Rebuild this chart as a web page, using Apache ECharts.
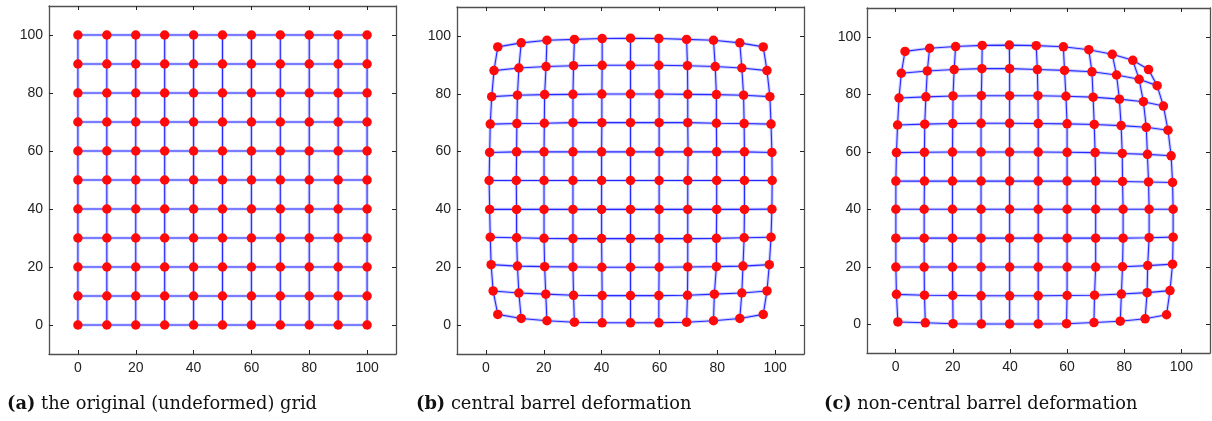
<!DOCTYPE html>
<html><head><meta charset="utf-8">
<script src="https://cdn.jsdelivr.net/npm/echarts@6/dist/echarts.min.js"></script>
<style>html,body{margin:0;padding:0;background:#fff}#c{width:1212px;height:421px}</style>
</head><body><div id="c"></div>
<script>
// tick labels shown on every axis
const tickValues = [0, 20, 40, 60, 80, 100];
// panel (a): original grid node coordinates
const gridValues = [0, 10, 20, 30, 40, 50, 60, 70, 80, 90, 100];

// panel (b): central barrel deformation, rows listed from top (nominal y=100) to bottom (y=0)
const bX = [
  [4.1,12.2,21.1,30.6,40.2,50,59.8,69.4,78.7,87.8,95.9],
  [2.8,11.4,20.8,30.3,40.2,50,59.8,69.7,79.3,88.5,97.2],
  [2.0,10.9,20.3,30.1,40.1,50,59.9,69.8,79.7,89.1,98.2],
  [1.5,10.7,20.2,30.1,40.1,50,59.9,69.8,79.7,89.3,98.6],
  [1.3,10.6,20.1,30.1,40.0,50,59.9,69.9,79.8,89.4,98.9],
  [1.1,10.5,20.1,30.1,40.0,50,59.9,69.8,79.8,89.4,99.0],
  [1.3,10.6,20.1,30.1,40.0,50,59.9,69.8,79.8,89.4,98.9],
  [1.5,10.6,20.1,30.1,40.0,50,59.9,69.8,79.7,89.3,98.6],
  [1.8,10.9,20.3,30.1,40.1,50,59.9,69.8,79.7,88.9,98.0],
  [2.5,11.4,20.7,30.3,40.2,50,59.8,69.7,79.0,88.5,97.2],
  [4.1,12.2,21.1,30.6,40.2,50,59.8,69.4,78.7,87.8,95.9]
];
const bY = [
  [96.2,97.6,98.5,98.8,99.1,99.2,99.1,98.8,98.5,97.6,96.2],
  [88.0,88.9,89.4,89.7,89.85,89.85,89.85,89.7,89.4,88.9,88.0],
  [79.0,79.5,79.7,79.8,79.9,79.9,79.9,79.8,79.7,79.5,79.0],
  [69.5,69.7,69.8,70.0,70.0,70.0,70.0,70.0,69.8,69.7,69.5],
  [59.7,59.9,59.9,59.9,59.9,59.9,59.9,59.9,59.9,59.9,59.7],
  [50,50,50,50,50,50,50,50,50,50,50],
  [40,40,40,40,40,40,40,40,40,40,40.1],
  [30.4,30.2,30.0,29.9,29.9,29.9,29.9,29.9,30.0,30.2,30.4],
  [20.9,20.4,20.2,20.1,20.0,20.0,20.0,20.1,20.2,20.4,20.9],
  [11.8,11.1,10.7,10.3,10.2,10.2,10.2,10.3,10.7,11.1,11.8],
  [3.7,2.3,1.5,1.0,0.8,0.8,0.8,1.0,1.5,2.3,3.7]
];

// panel (c): non-central barrel deformation, rows from top to bottom
const cX = [
  [3.3,11.9,21.0,30.3,39.8,49.2,58.7,67.6,75.8,83.0,88.5],
  [2.0,11.1,20.5,30.2,39.9,49.6,59.1,68.7,77.3,85.2,91.5],
  [1.2,10.6,20.1,30.0,39.9,49.8,59.6,69.1,78.3,86.7,93.7],
  [0.7,10.2,20.0,29.9,39.9,49.9,60.0,69.5,78.9,87.7,95.3],
  [0.3,10.1,19.9,29.9,39.9,49.9,60.0,69.8,79.3,88.1,96.4],
  [0.1,10.1,19.9,29.9,39.9,49.9,60.0,70.0,79.4,88.5,96.9],
  [0.1,10.0,19.9,29.9,39.9,49.9,60.0,70.0,79.6,88.7,97.1],
  [0.1,10.0,19.9,29.9,39.9,49.9,60.0,70.0,79.6,88.7,97.1],
  [0.1,10.0,19.9,29.9,39.9,49.9,60.0,70.0,79.4,88.2,96.9],
  [0.3,10.1,20.0,29.9,39.9,49.9,60.0,69.6,79.0,88.0,96.0],
  [0.8,10.4,20.1,30.0,39.9,49.9,59.8,69.4,78.6,87.3,94.8]
];
const cY = [
  [94.9,96.0,96.6,97.0,97.1,96.9,96.5,95.5,93.9,91.8,88.6],
  [87.3,88.1,88.6,88.9,88.9,88.6,88.3,87.8,86.7,85.2,83.0],
  [78.7,79.1,79.4,79.5,79.5,79.5,79.3,79.0,78.3,77.4,75.9],
  [69.3,69.6,69.8,69.9,69.9,69.8,69.7,69.5,69.1,68.5,67.5],
  [59.7,59.8,59.9,59.9,59.9,59.9,59.8,59.7,59.4,59.1,58.6],
  [49.8,49.8,49.8,49.8,49.8,49.8,49.8,49.8,49.65,49.5,49.3],
  [40,40,40,40,40,40,40,40,40,40,40],
  [29.95,29.95,29.95,29.95,29.95,29.95,29.95,29.95,29.95,30.1,30.3],
  [19.9,19.9,19.9,19.9,19.9,19.9,19.9,19.9,20.0,20.4,20.9],
  [10.4,10.1,10.0,9.9,9.9,9.9,10.0,10.1,10.5,11.0,11.7],
  [0.8,0.5,0.2,0.1,0.1,0.1,0.2,0.6,1.05,1.9,3.3]
];

const captions = [
  ['(a)', ' the original (undeformed) grid'],
  ['(b)', ' central barrel deformation'],
  ['(c)', ' non-central barrel deformation']
];

// build panel (a) matrices from the nominal grid values (top row first)
const aX = gridValues.slice().reverse().map(() => gridValues.slice());
const aY = gridValues.slice().reverse().map(v => gridValues.map(() => v));

const panels = [[aX, aY], [bX, bY], [cX, cY]];
const grids = [
  {left: 49, top: 6, width: 347, height: 348},
  {left: 457, top: 7, width: 347, height: 347},
  {left: 867, top: 8, width: 343, height: 345}
];

const axisColor = '#505050';
const labelStyle = {fontFamily: 'Liberation Sans, Arial, sans-serif', fontSize: 14, color: '#222'};
const xAxes = [], yAxes = [], series = [], titles = [];

grids.forEach((g, i) => {
  const common = {type: 'value', min: -10, max: 110, gridIndex: i, splitLine: {show: false},
    axisLine: {show: true, onZero: false, lineStyle: {color: axisColor, width: 1.3}},
    axisTick: {show: true, inside: true, length: 4, customValues: tickValues, lineStyle: {color: '#222', width: 1}}};
  xAxes.push(Object.assign({}, common, {position: 'bottom',
    axisLabel: Object.assign({show: true, margin: 7, customValues: tickValues}, labelStyle)}));
  xAxes.push(Object.assign({}, common, {position: 'top', axisLabel: {show: false}}));
  yAxes.push(Object.assign({}, common, {position: 'left',
    axisLabel: Object.assign({show: true, margin: 6, customValues: tickValues}, labelStyle)}));
  yAxes.push(Object.assign({}, common, {position: 'right', axisLabel: {show: false}}));

  const [X, Y] = panels[i];
  const n = X.length, m = X[0].length;
  const addLine = (pts) => {
    series.push({type: 'line', xAxisIndex: 2 * i, yAxisIndex: 2 * i, data: pts, showSymbol: false,
      silent: true, z: 2, lineStyle: {color: 'rgba(110,120,255,0.35)', width: 3.2}, animation: false});
    series.push({type: 'line', xAxisIndex: 2 * i, yAxisIndex: 2 * i, data: pts, showSymbol: false,
      silent: true, z: 3, lineStyle: {color: 'rgba(0,0,255,0.8)', width: 1.1}, animation: false});
  };
  for (let r = 0; r < n; r++) addLine(X[r].map((x, c) => [x, Y[r][c]]));
  for (let c = 0; c < m; c++) addLine(X.map((row, r) => [row[c], Y[r][c]]));
  const pts = [];
  for (let r = 0; r < n; r++) for (let c = 0; c < m; c++) pts.push([X[r][c], Y[r][c]]);
  series.push({type: 'scatter', xAxisIndex: 2 * i, yAxisIndex: 2 * i, data: pts, symbolSize: 9.5, z: 4,
    itemStyle: {color: '#ff0a0a', opacity: 1}, animation: false, silent: true});

  titles.push({left: [7, 416, 824][i], top: 395.5, padding: 0,
    text: '{b|' + captions[i][0] + '}{n|' + captions[i][1] + '}',
    textStyle: {rich: {
      b: {fontFamily: 'DejaVu Serif, serif', fontSize: 17.8, fontWeight: 'bold', color: '#111'},
      n: {fontFamily: 'DejaVu Serif, serif', fontSize: 17.8, fontWeight: 'normal', color: '#111'}}}});
});

const chart = echarts.init(document.getElementById('c'), null, {renderer: 'canvas'});
chart.setOption({animation: false, grid: grids, xAxis: xAxes, yAxis: yAxes, series: series, title: titles});
</script></body></html>
